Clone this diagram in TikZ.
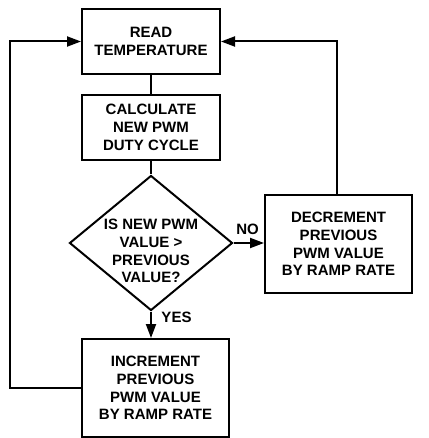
\documentclass[tikz,border=0pt]{standalone}
\usepackage{fontspec}
\setmainfont{Liberation Sans}
\usetikzlibrary{arrows.meta,shapes.geometric,positioning}

\begin{document}
\begin{tikzpicture}[x=1pt,y=-1pt,
    font=\fontsize{15}{17.7}\selectfont\bfseries,
    stepbox/.style={draw,line width=2pt,inner sep=0pt,align=center},
    askbox/.style={draw,shape=diamond,line width=2pt,inner sep=-20pt,
                   minimum width=163pt,minimum height=135pt},
    flow/.style={line width=2pt},
    flowarr/.style={flow,-{Triangle[length=14pt,width=10pt]}},
    tag/.style={inner sep=0pt}]
  \useasboundingbox (0,0) rectangle (428,438);
  %% Boxes
  \node[stepbox,minimum width=138pt,minimum height=65pt] (read)
    at (151,41.5) {READ\\TEMPERATURE};
  \node[stepbox,minimum width=138pt,minimum height=65pt] (calc)
    at (151,127.5) {CALCULATE\\NEW PWM\\DUTY CYCLE};
  \node[askbox] (ask) at (151,243) {};
  \node[align=center,inner sep=0pt] (asktext) at (151,251)
    {IS NEW PWM\\VALUE >\\PREVIOUS\\VALUE?};
  \node[stepbox,minimum width=147pt,minimum height=98pt] (decr)
    at (338.5,244) {DECREMENT\\PREVIOUS\\PWM VALUE\\BY RAMP RATE};
  \node[stepbox,minimum width=147pt,minimum height=98pt] (incr)
    at (155.5,388) {INCREMENT\\PREVIOUS\\PWM VALUE\\BY RAMP RATE};
  %% Connectors
  \draw[flow] (read) -- (calc);
  \draw[flow] (calc) -- (ask);
  \draw[flowarr] (ask.east) -- (ask.east -| decr.west);
  \draw[flowarr] (ask.south) -- (ask.south |- incr.north);
  \draw[flowarr] (incr.west) -- ++(-71,0) |- (read.west);
  \draw[flowarr] (decr.north -| 337,0) |- (read.east);
  %% Labels
  \node[tag] (no) at (247.5,229) {NO};
  \node[tag] (yes) at (176.5,317) {YES};
\end{tikzpicture}
\end{document}
